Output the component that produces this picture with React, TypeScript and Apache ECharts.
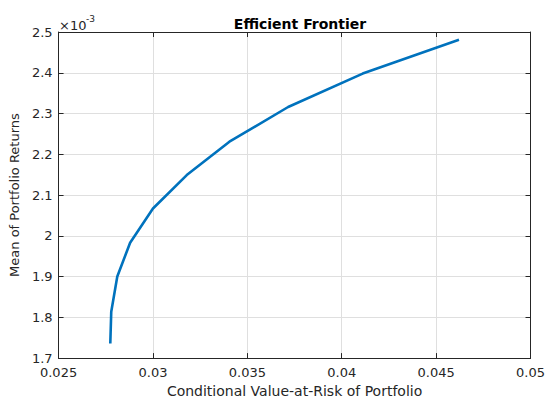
import React, { useEffect, useRef } from "react";
import * as echarts from "echarts";

const cvar = [0.02774, 0.02779, 0.02811, 0.02879, 0.03, 0.03179, 0.03405, 0.03716, 0.04111, 0.04621];
const meanRet = [1.736, 1.8135, 1.9, 1.983, 2.067, 2.149, 2.231, 2.316, 2.398, 2.481];
const xTicks = [0.025, 0.03, 0.035, 0.04, 0.045, 0.05];
const yTicks = [1.7, 1.8, 1.9, 2, 2.1, 2.2, 2.3, 2.4, 2.5];

const FONT = "'DejaVu Sans', sans-serif";
const AX = "#262626";

export default function App() {
  const ref = useRef<HTMLDivElement>(null);
  useEffect(() => {
    const chart = echarts.init(ref.current!, null, { renderer: "svg" });
    const xFmt = (v: number) => {
      const m = xTicks.find((t) => Math.abs(t - v) < 1e-9);
      return m === undefined ? "" : String(m);
    };
    const yFmt = (v: number) => {
      const m = yTicks.find((t) => Math.abs(t - v) < 1e-9);
      return m === undefined ? "" : String(m);
    };
    chart.setOption({
      animation: false,
      backgroundColor: "#ffffff",
      title: {
        text: "Efficient Frontier",
        left: 295,
        textAlign: "center",
        top: 12,
        textStyle: { fontFamily: FONT, fontSize: 14, fontWeight: "bold", color: "#000" },
      },
      grid: { left: 58, right: 15, top: 32, bottom: 40, show: false },
      graphic: [
        { type: "text", left: 59, top: 19, style: { text: "×10", fontSize: 13, fontFamily: FONT, fill: AX } },
        { type: "text", left: 86, top: 14, style: { text: "-3", fontSize: 9, fontFamily: FONT, fill: AX } },
      ],
      xAxis: [
        {
          type: "value",
          min: 0.025,
          max: 0.05,
          interval: 0.005,
          position: "bottom",
          name: "Conditional Value-at-Risk of Portfolio",
          nameLocation: "middle",
          nameGap: 25,
          nameTextStyle: { fontFamily: FONT, fontSize: 14, color: AX },
          axisLine: { show: true, lineStyle: { color: AX, width: 1 } },
          axisTick: { show: true, inside: true, length: 5, lineStyle: { color: AX } },
          axisLabel: { fontFamily: FONT, fontSize: 13, color: AX, margin: 8, formatter: xFmt },
          splitLine: { show: true, lineStyle: { color: "#dfdfdf", width: 1 } },
        },
        {
          type: "value",
          min: 0.025,
          max: 0.05,
          interval: 0.005,
          position: "top",
          axisLine: { show: true, lineStyle: { color: AX, width: 1 } },
          axisTick: { show: true, inside: true, length: 5, lineStyle: { color: AX } },
          axisLabel: { show: false },
          splitLine: { show: false },
        },
      ],
      yAxis: [
        {
          type: "value",
          min: 1.7,
          max: 2.5,
          interval: 0.1,
          position: "left",
          name: "Mean of Portfolio Returns",
          nameLocation: "middle",
          nameGap: 37,
          nameTextStyle: { fontFamily: FONT, fontSize: 13, color: AX },
          axisLine: { show: true, lineStyle: { color: AX, width: 1 } },
          axisTick: { show: true, inside: true, length: 5, lineStyle: { color: AX } },
          axisLabel: { fontFamily: FONT, fontSize: 13, color: AX, margin: 6, formatter: yFmt },
          splitLine: { show: true, lineStyle: { color: "#dfdfdf", width: 1 } },
        },
        {
          type: "value",
          min: 1.7,
          max: 2.5,
          interval: 0.1,
          position: "right",
          axisLine: { show: true, lineStyle: { color: AX, width: 1 } },
          axisTick: { show: true, inside: true, length: 5, lineStyle: { color: AX } },
          axisLabel: { show: false },
          splitLine: { show: false },
        },
      ],
      series: [
        {
          type: "line",
          data: cvar.map((x, i) => [x, meanRet[i]]),
          showSymbol: false,
          lineStyle: { color: "#0072BD", width: 2.6 },
          itemStyle: { color: "#0072BD" },
        },
      ],
    });
    return () => chart.dispose();
  }, []);
  return <div ref={ref} style={{ width: 548, height: 403, position: "absolute", left: 0, top: 0 }} />;
}
